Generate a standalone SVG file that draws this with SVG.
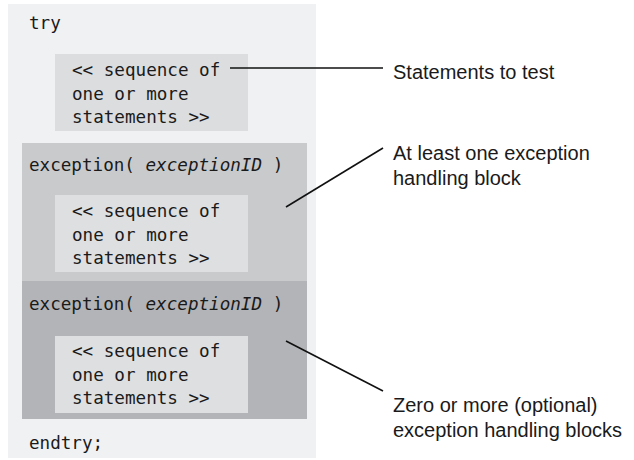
<svg xmlns="http://www.w3.org/2000/svg" width="634" height="460" viewBox="0 0 634 460">
<style>
.code{font-family:"DejaVu Sans Mono","Liberation Mono",monospace;font-size:17.6px;fill:#1a1a1a}
.lbl{font-family:"Liberation Sans","Noto Sans",sans-serif;font-size:20px;fill:#1a1a1a}
.inner{fill:#dedfe1}
.conn{stroke:#111;stroke-width:1.6;fill:none}
</style>
<rect width="634" height="460" fill="#ffffff"/>
<g id="try-block">
<rect x="8" y="4" width="308" height="454" fill="#f0f1f3"/>
<text class="code" x="29" y="29">try</text>
<rect x="55" y="54" width="193" height="77" fill="#dcdddf"/>
<text class="code" x="72" y="76">&lt;&lt; sequence of</text>
<text class="code" x="72" y="100">one or more</text>
<text class="code" x="72" y="123">statements &gt;&gt;</text>
<text class="code" x="29" y="449">endtry;</text>
</g>
<g id="exception-block-1">
<rect x="22" y="143" width="285" height="138" fill="#c9cacc"/>
<text class="code" x="29" y="171">exception( <tspan font-style="italic">exceptionID</tspan> )</text>
<rect class="inner" x="55" y="195" width="193" height="77"/>
<text class="code" x="72" y="217">&lt;&lt; sequence of</text>
<text class="code" x="72" y="241">one or more</text>
<text class="code" x="72" y="264">statements &gt;&gt;</text>
</g>
<g id="exception-block-2">
<rect x="22" y="281" width="285" height="138" fill="#b3b4b7"/>
<text class="code" x="29" y="310">exception( <tspan font-style="italic">exceptionID</tspan> )</text>
<rect class="inner" x="55" y="336" width="193" height="77"/>
<text class="code" x="72" y="357">&lt;&lt; sequence of</text>
<text class="code" x="72" y="381">one or more</text>
<text class="code" x="72" y="404">statements &gt;&gt;</text>
</g>
<g id="label-statements">
<text class="lbl" x="393" y="79">Statements to test</text>
</g>
<g id="label-atleast">
<text class="lbl" x="393" y="160">At least one exception</text>
<text class="lbl" x="393" y="185">handling block</text>
</g>
<g id="label-zero">
<text class="lbl" x="393" y="412">Zero or more (optional)</text>
<text class="lbl" x="393" y="437">exception handling blocks</text>
</g>
<g id="connectors">
<line class="conn" x1="230" y1="68" x2="383" y2="68"/>
<line class="conn" x1="286" y1="207" x2="383" y2="148"/>
<line class="conn" x1="286" y1="341" x2="383" y2="391"/>
</g>
</svg>
